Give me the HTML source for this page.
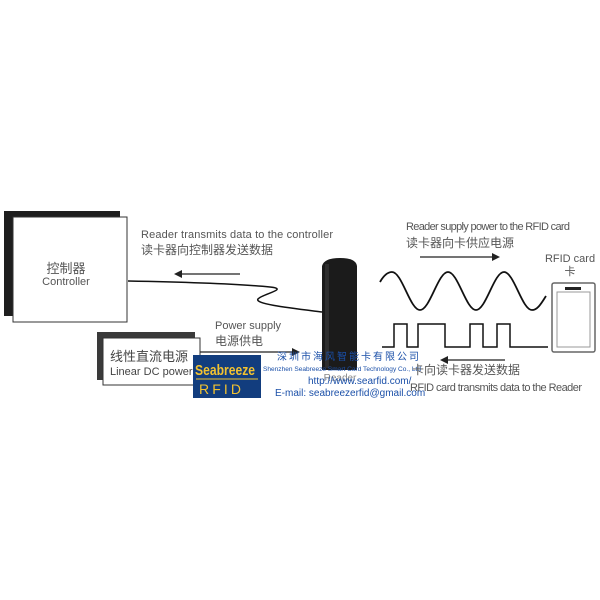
<!DOCTYPE html>
<html><head><meta charset="utf-8"><style>
html,body{margin:0;padding:0;background:#fff;}
svg{display:block}
text{font-family:"Liberation Sans","Noto Sans CJK SC",sans-serif;}
</style></head><body>
<svg width="600" height="600" viewBox="0 0 600 600" xmlns="http://www.w3.org/2000/svg">
<rect width="600" height="600" fill="#fff"/>
<rect x="4" y="211" width="116" height="105" fill="#1e1e1e"/>
<rect x="13" y="217" width="114" height="105" fill="#fff" stroke="#333" stroke-width="1"/>
<text x="66" y="273" font-size="13" fill="#555" text-anchor="middle">控制器</text>
<text x="66" y="285" font-size="11" fill="#555" text-anchor="middle">Controller</text>
<path d="M128,281 C180,282 240,284 270,287 C290,289 262,294 258,299 C254,304 290,308 322,312" fill="none" stroke="#111" stroke-width="1.5"/>
<line x1="240" y1="274" x2="180" y2="274" stroke="#222" stroke-width="1.2"/>
<polygon points="174,274 182,270 182,278" fill="#222"/>
<text x="141" y="238" font-size="11" fill="#555" textLength="192">Reader transmits data to the controller</text>
<text x="141" y="254" font-size="12" fill="#555">读卡器向控制器发送数据</text>
<rect x="97" y="332" width="98" height="48" fill="#3a3a3a"/>
<rect x="103" y="338" width="97" height="47" fill="#fff" stroke="#333" stroke-width="1"/>
<text x="110" y="361" font-size="13" fill="#444">线性直流电源</text>
<text x="110" y="375" font-size="11" fill="#444">Linear DC power</text>
<line x1="200" y1="352" x2="292" y2="352" stroke="#222" stroke-width="1.2"/>
<polygon points="300,352 292,348 292,356" fill="#222"/>
<text x="215" y="329" font-size="11" fill="#555">Power supply</text>
<text x="215" y="345" font-size="12" fill="#555">电源供电</text>
<path d="M322,266 Q324,258 340,258 Q356,258 357,266 L357,370 L322,370 Z" fill="#1b1b1b"/>
<rect x="325" y="264" width="4" height="104" fill="#2e2e2e"/>
<text x="340" y="381" font-size="10" fill="#888" text-anchor="middle">Reader</text>
<rect x="193" y="355" width="68" height="43" fill="#123d7e"/>
<text x="195" y="375" font-size="15" font-weight="bold" fill="#f2c230" font-family="Liberation Serif" textLength="60" lengthAdjust="spacingAndGlyphs">Seabreeze</text>
<line x1="196" y1="379" x2="258" y2="379" stroke="#f2c230" stroke-width="1"/>
<text x="199" y="394" font-size="14" fill="#f2c230" textLength="42">RFID</text>
<text x="277" y="360" font-size="10" fill="#1a4fa8" textLength="142">深圳市海风智能卡有限公司</text>
<text x="263" y="371" font-size="6" fill="#1a4fa8" textLength="158" lengthAdjust="spacingAndGlyphs">Shenzhen Seabreeze Smart Card Technology Co., Ltd</text>
<text x="308" y="384" font-size="10" fill="#1a4fa8">http://www.searfid.com/</text>
<text x="275" y="396" font-size="10" fill="#1a4fa8">E-mail: seabreezerfid@gmail.com</text>
<path d="M380,282 C384,275 388,272 392,272 C402,272 410,310 420,310 C430,310 438,272 448,272 C458,272 466,310 476,310 C486,310 494,272 504,272 C514,272 522,310 532,310 C538,310 542,302 546,296" fill="none" stroke="#111" stroke-width="1.8"/>
<line x1="420" y1="257" x2="494" y2="257" stroke="#222" stroke-width="1.2"/>
<polygon points="500,257 492,253 492,261" fill="#222"/>
<text x="406" y="230" font-size="11" fill="#555" textLength="164">Reader supply power to the RFID card</text>
<text x="406" y="247" font-size="12" fill="#555">读卡器向卡供应电源</text>
<polyline points="382,347 394,347 394,324 407,324 407,347 418,347 418,324 445,324 445,347 470,347 470,324 483,324 483,347 497,347 497,324 510,324 510,347 548,347" fill="none" stroke="#111" stroke-width="1.5"/>
<line x1="505" y1="360" x2="446" y2="360" stroke="#222" stroke-width="1.2"/>
<polygon points="440,360 448,356 448,364" fill="#222"/>
<text x="412" y="374" font-size="12" fill="#555">卡向读卡器发送数据</text>
<text x="410" y="391" font-size="11" fill="#555" textLength="172">RFID card transmits data to the Reader</text>
<text x="570" y="262" font-size="11" fill="#555" text-anchor="middle">RFID card</text>
<text x="570" y="275" font-size="11" fill="#555" text-anchor="middle">卡</text>
<rect x="552" y="283" width="43" height="69" rx="2" fill="#fff" stroke="#666" stroke-width="1.5"/>
<rect x="557" y="292" width="33" height="55" fill="#fff" stroke="#999" stroke-width="1"/>
<rect x="565" y="287" width="16" height="3" fill="#222"/>
</svg>
</body></html>
